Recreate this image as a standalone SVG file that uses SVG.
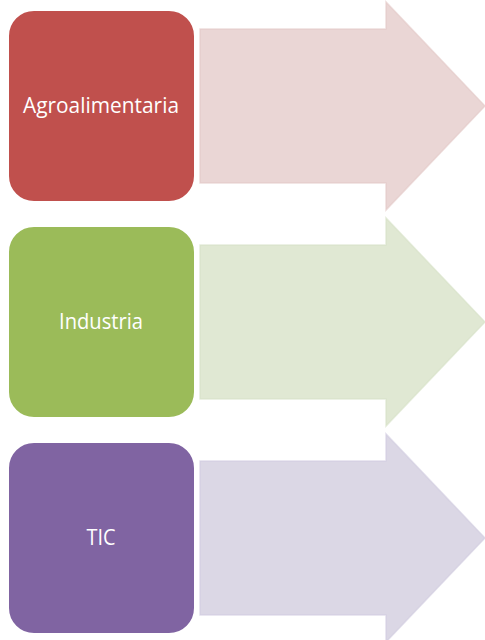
<svg xmlns="http://www.w3.org/2000/svg" width="485" height="640" viewBox="0 0 485 640">
<style>
.box{stroke:#ffffff;stroke-width:2}
.lbl{font-family:"Open Sans","Liberation Sans",sans-serif;font-size:22px;fill:#ffffff;text-anchor:middle}
.arr{stroke-width:1.5;stroke-opacity:0.6}
</style>
<rect width="485" height="640" fill="#ffffff"/>
<g id="connectors">
<path id="arrow1" class="arr" d="M200,29 H386 V2 L485,106 L386,210 V183 H200 Z" fill="#EAD6D5" stroke="#E2C8C7"/>
<path id="arrow2" class="arr" d="M200,245 H386 V218 L485,322 L386,426 V399 H200 Z" fill="#E0E8D3" stroke="#D6E1C6"/>
<path id="arrow3" class="arr" d="M200,461 H386 V434 L485,538 L386,642 V615 H200 Z" fill="#DBD7E5" stroke="#D1CCE0"/>
</g>
<g id="node1">
<rect class="box" x="8" y="10" width="187" height="192" rx="26" fill="#C0504D"/>
<text class="lbl" x="101" y="113" textLength="156" lengthAdjust="spacingAndGlyphs">Agroalimentaria</text>
</g>
<g id="node2">
<rect class="box" x="8" y="226" width="187" height="192" rx="26" fill="#9BBB59"/>
<text class="lbl" x="101" y="329" textLength="84" lengthAdjust="spacingAndGlyphs">Industria</text>
</g>
<g id="node3">
<rect class="box" x="8" y="442" width="187" height="192" rx="26" fill="#8064A2"/>
<text class="lbl" x="101" y="545" textLength="29" lengthAdjust="spacingAndGlyphs">TIC</text>
</g>
</svg>
